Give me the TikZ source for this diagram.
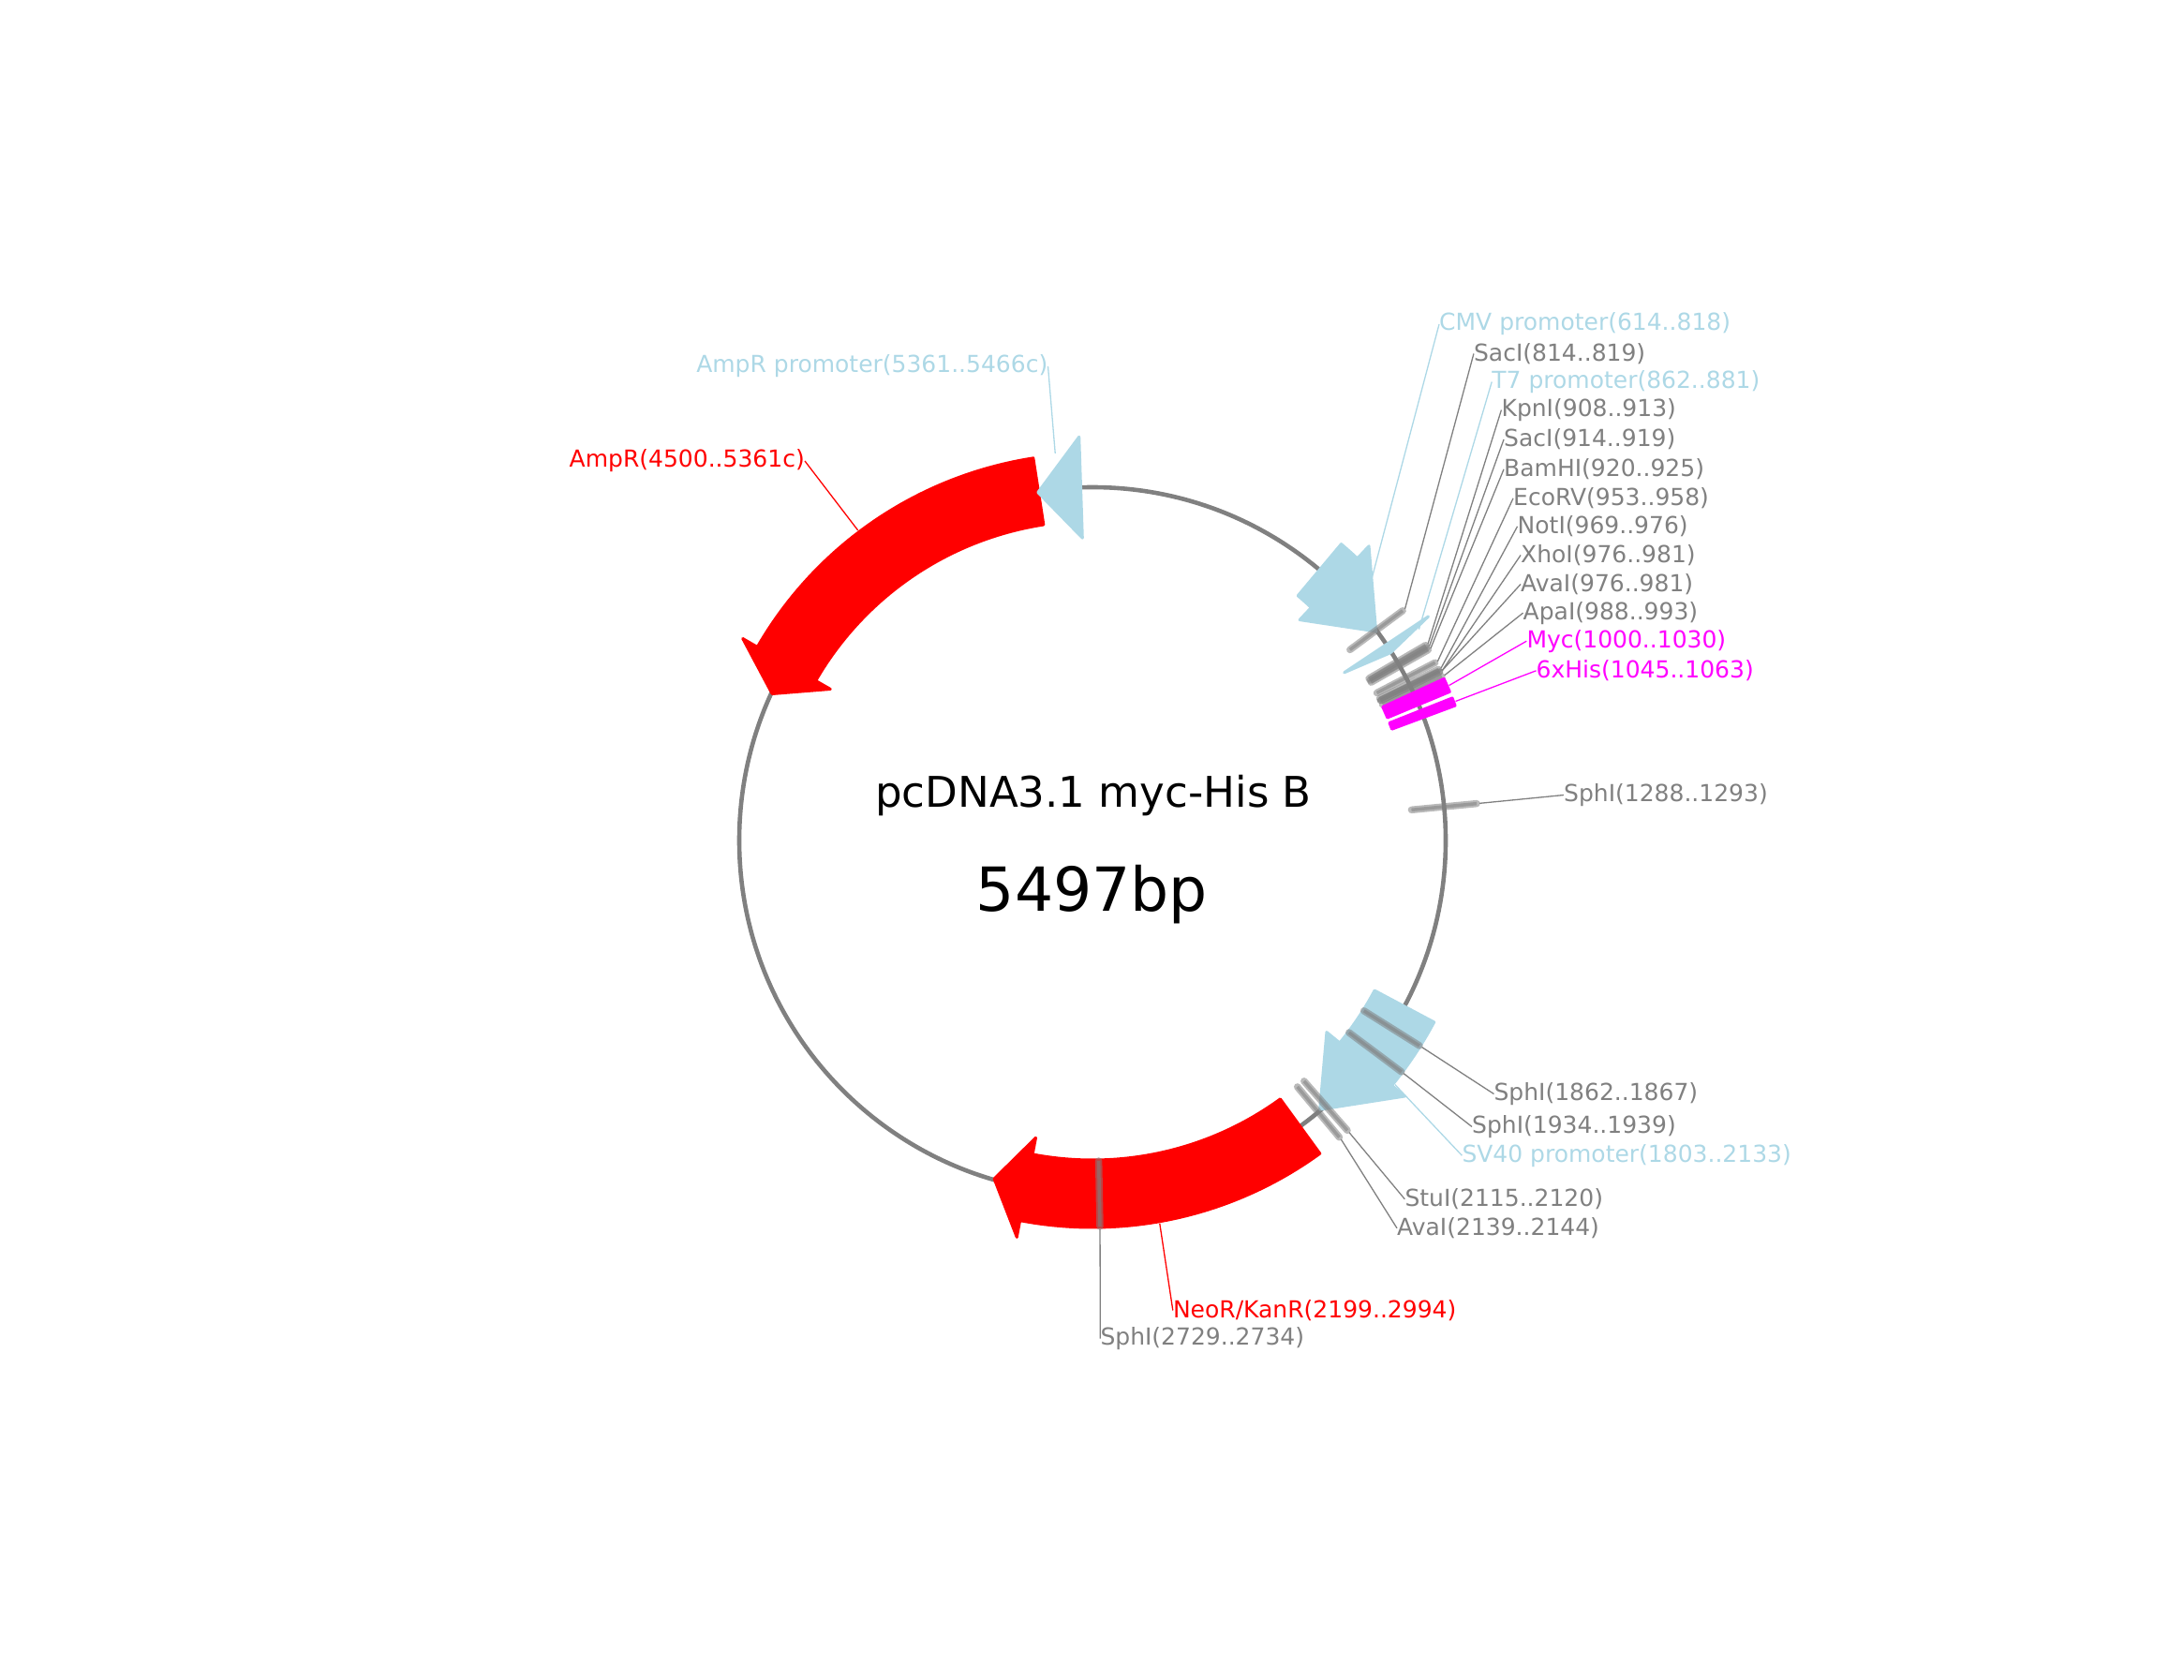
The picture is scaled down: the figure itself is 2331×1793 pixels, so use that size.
\documentclass[tikz,border=0pt]{standalone}
\usepackage{fontspec}
\setmainfont{DejaVu Sans}
\definecolor{lblue}{HTML}{ADD8E6}
\definecolor{gry}{HTML}{808080}
\definecolor{mag}{HTML}{FF00FF}
\definecolor{rd}{HTML}{FF0000}
\tikzset{
  backbone/.style={draw=gry,line width=4.6pt},
  leader/.style={line width=1.3pt},
  sitebar/.style={draw=gry,draw opacity=.55,line width=7.5pt,line cap=round},
  sitecore/.style={draw=gry,draw opacity=.55,line width=3.5pt},
  featshape/.style={line width=3pt,line join=round},
  lab/.style={inner sep=0pt,font=\fontsize{25}{29}\selectfont},
  labw/.style={lab,anchor=west},
  labe/.style={lab,anchor=east},
}
% tail, neck, tip angles
\newcommand{\featarrow}[4]{%
  \path[featshape,fill=#1,draw=#1]
    (#2:413) arc[start angle=#2,end angle=#3,radius=413]
    -- (#3:431) -- (#4:376) -- (#3:323) -- (#3:341)
    arc[start angle=#3,end angle=#2,radius=341] -- cycle;}
\newcommand{\feattri}[3]{%
  \path[featshape,fill=#1,draw=#1] (#2:431) -- (#3:376) -- (#2:323) -- cycle;}
\newcommand{\featbox}[3]{%
  \path[featshape,fill=#1,draw=#1]
    (#2:413) arc[start angle=#2,end angle=#3,radius=413]
    -- (#3:341) arc[start angle=#3,end angle=#2,radius=341] -- cycle;}
% name, midpoint bp
\newcommand{\enzsite}[2]{%
  \pgfmathsetmacro{\siteang}{-90+#2*0.0654903}
  \coordinate (#1) at (\siteang:415);
  \draw[sitebar] (\siteang:342) -- (\siteang:412);
  \draw[sitecore] (\siteang:342) -- (\siteang:412);}
\begin{document}
\begin{tikzpicture}[yscale=-1,x=1pt,y=1pt]
\useasboundingbox (0,0) rectangle (2331,1793);
% labels
\node[labw,text=lblue] (lCMV) at (1536,346) {CMV promoter(614..818)};
\node[labw,text=gry] (lSacA) at (1572.9,377.5) {SacI(814..819)};
\node[labw,text=lblue] (lT7) at (1592.2,407.5) {T7 promoter(862..881)};
\node[labw,text=gry] (lKpn) at (1602.4,437.5) {KpnI(908..913)};
\node[labw,text=gry] (lSacB) at (1605,469) {SacI(914..919)};
\node[labw,text=gry] (lBam) at (1605,500.8) {BamHI(920..925)};
\node[labw,text=gry] (lEco) at (1615,531.8) {EcoRV(953..958)};
\node[labw,text=gry] (lNot) at (1619.5,561.8) {NotI(969..976)};
\node[labw,text=gry] (lXho) at (1623,592.5) {XhoI(976..981)};
\node[labw,text=gry] (lAvaA) at (1623,623.5) {AvaI(976..981)};
\node[labw,text=gry] (lApa) at (1625.5,654.2) {ApaI(988..993)};
\node[labw,text=mag] (lMyc) at (1629.3,684.2) {Myc(1000..1030)};
\node[labw,text=mag] (lHis) at (1639.5,715.8) {6xHis(1045..1063)};
\node[labw,text=gry] (lSphA) at (1669,848.5) {SphI(1288..1293)};
\node[labw,text=gry] (lSphB) at (1594.4,1167.5) {SphI(1862..1867)};
\node[labw,text=gry] (lSphC) at (1571,1202.5) {SphI(1934..1939)};
\node[labw,text=lblue] (lSV) at (1560.3,1233.2) {SV40 promoter(1803..2133)};
\node[labw,text=gry] (lStu) at (1499.3,1279.8) {StuI(2115..2120)};
\node[labw,text=gry] (lAvaB) at (1491,1310.8) {AvaI(2139..2144)};
\node[labw,text=rd] (lNeo) at (1251.8,1398.5) {NeoR/KanR(2199..2994)};
\node[labw,text=gry] (lSphD) at (1174.3,1428.5) {SphI(2729..2734)};
\node[labe,text=lblue] (lAmpP) at (1118.5,390.8) {AmpR promoter(5361..5466c)};
\node[labe,text=rd] (lAmp) at (859,492) {AmpR(4500..5361c)};
\node[inner sep=0pt,font=\fontsize{45.1}{54}\selectfont] (title) at (1167,849) {pcDNA3.1 myc-His B};
\node[inner sep=0pt,font=\fontsize{64.8}{72}\selectfont] (size) at (1165.5,955) {5497bp};
\begin{scope}[shift={(1166,897)}]
\draw[backbone] (0,0) circle[radius=377];
% feature anchors
\coordinate (fCMV) at (-43.1:408);
\coordinate (fT7) at (-32.9:415);
\coordinate (fSV) at (38.9:415);
\coordinate (fNeo) at (80.04:415);
\coordinate (fAmp) at (232.9:415);
\coordinate (fAmpP) at (264.5:415);
\coordinate (fMyc) at (-23.5:415);
\coordinate (fHis) at (-20.97:415);
\draw[leader,lblue] (fCMV) -- (lCMV.west);
\draw[leader,lblue] (fT7) -- (lT7.west);
\draw[leader,lblue] (fSV) -- (lSV.west);
\draw[leader,rd] (fNeo) -- (lNeo.west);
\draw[leader,rd] (fAmp) -- (lAmp.east);
\draw[leader,lblue] (fAmpP) -- (lAmpP.east);
\draw[leader,mag] (fMyc) -- (lMyc.west);
\draw[leader,mag] (fHis) -- (lHis.west);
% features
\featarrow{rd}{261.2}{210}{204.6}
\feattri{lblue}{268.1}{261.1}
\featarrow{lblue}{-50}{-46.8}{-36.4}
\feattri{lblue}{-33.7}{-32.2}
\featarrow{lblue}{28}{39.3}{49.8}
\featarrow{rd}{54}{100.8}{106.2}
% sites
\enzsite{sSacA}{816.5}
\enzsite{sKpn}{910.5}
\enzsite{sSacB}{916.5}
\enzsite{sBam}{922.5}
\enzsite{sEco}{955.5}
\enzsite{sNot}{972.5}
\enzsite{sXho}{978.5}
\enzsite{sAvaA}{978.5}
\enzsite{sApa}{990.5}
\enzsite{sSphA}{1290.5}
\enzsite{sSphB}{1864.5}
\enzsite{sSphC}{1936.5}
\enzsite{sStu}{2117.5}
\enzsite{sAvaB}{2141.5}
\enzsite{sSphD}{2731.5}
\draw[leader,gry] (sSacA) -- (lSacA.west);
\draw[leader,gry] (sKpn) -- (lKpn.west);
\draw[leader,gry] (sSacB) -- (lSacB.west);
\draw[leader,gry] (sBam) -- (lBam.west);
\draw[leader,gry] (sEco) -- (lEco.west);
\draw[leader,gry] (sNot) -- (lNot.west);
\draw[leader,gry] (sXho) -- (lXho.west);
\draw[leader,gry] (sAvaA) -- (lAvaA.west);
\draw[leader,gry] (sApa) -- (lApa.west);
\draw[leader,gry] (sSphA) -- (lSphA.west);
\draw[leader,gry] (sSphB) -- (lSphB.west);
\draw[leader,gry] (sSphC) -- (lSphC.west);
\draw[leader,gry] (sStu) -- (lStu.west);
\draw[leader,gry] (sAvaB) -- (lAvaB.west);
\draw[leader,gry] (sSphD) -- (lSphD.west);
% magenta boxes
\featbox{mag}{-24.7}{-22.6}
\featbox{mag}{-21.6}{-20.4}
\end{scope}
\end{tikzpicture}
\end{document}
